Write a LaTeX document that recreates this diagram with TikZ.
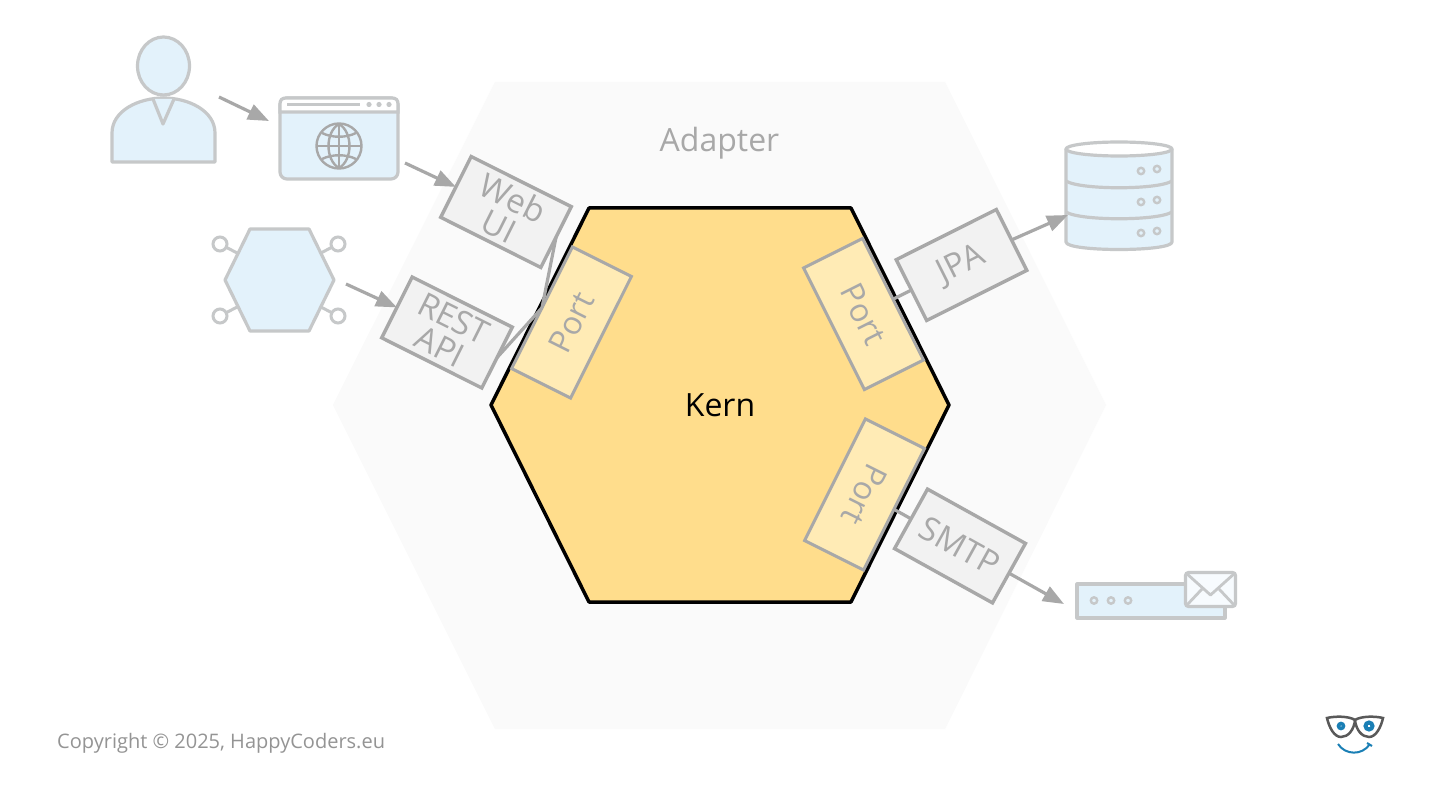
\documentclass[tikz,border=0pt]{standalone}
\usepackage{fontspec}
\setmainfont{Open Sans}
\usetikzlibrary{arrows.meta}
\definecolor{icon}{HTML}{C6C8C9}
\definecolor{iconfill}{HTML}{E3F2FB}
\definecolor{ink}{HTML}{A8A8A8}
\definecolor{adapterbg}{HTML}{FAFAFA}
\definecolor{corefill}{HTML}{FFDD8C}
\definecolor{portfill}{HTML}{FFEBB5}
\definecolor{logoblue}{HTML}{1A7FB5}
\begin{document}
\begin{tikzpicture}[
    x=1pt,y=-1pt,
    iconline/.style={draw=icon,line width=3.2pt,fill=iconfill,line join=round},
    adapterbox/.style={draw=ink,line width=3.4pt,fill=black!5,text=ink,minimum width=112pt,minimum height=68pt,
        inner sep=0pt,outer sep=0pt,align=center,font=\fontsize{33}{31}\selectfont},
    portbox/.style={draw=ink,line width=3pt,fill=portfill,text=ink,minimum width=136pt,minimum height=66pt,
        inner sep=0pt,outer sep=0pt,font=\fontsize{32}{32}\selectfont},
    link/.style={draw=ink,line width=3.2pt},
    flow/.style={link,-{Triangle[length=21pt,width=16pt]}}
    ]
	\useasboundingbox (0,0) rectangle (1440,810);
	\fill[white] (0,0) rectangle (1440,810);
	% hexagons
	\fill[adapterbg] (333,405) -- (495,82) -- (945,82) -- (1106,405) -- (945,729) -- (495,729) -- cycle;
	\draw[black,line width=3.5pt,fill=corefill,line join=round] (491,405) -- (589,208) -- (851,208) -- (949,405) -- (851,602) -- (589,602) -- cycle;
	\node (adapter) [text=ink,font=\fontsize{32}{32}\selectfont] at (719.5,143) {Adapter};
	\node (kern) [text=black,font=\fontsize{32}{32}\selectfont] at (720,405) {Kern};
	% ports
	\node (portleft) [portbox,rotate=63.4] at (571.5,322.5) {Port};
	\node (porttop) [portbox,rotate=-63.4] at (863.5,314) {Port};
	\node (portbottom) [portbox,rotate=-116.6] at (864.5,494.5) {Port};
	% adapters
	\node (webui) [adapterbox,rotate=-26.6] at (506,212) {Web\\UI};
	\node (restapi) [adapterbox,rotate=-26.6] at (447,332.5) {REST\\API};
	\node (jpa) [adapterbox,rotate=26.6] at (961.5,265) {JPA};
	\node (smtp) [adapterbox,rotate=-29] at (960,546) {SMTP};
	% user
	\draw[iconline] (112,162) -- (112,133) .. controls (112,111) and (138,98) .. (163.5,98)
		.. controls (189,98) and (215,111) .. (215,133) -- (215,162) -- cycle;
	\draw[iconline] (153,99) -- (163,124) -- (174,99);
	\draw[iconline] (163.5,66) ellipse [x radius=26,y radius=29];
	% browser
	\node (browser) [iconline,rounded corners=7pt,minimum width=118pt,minimum height=81pt,inner sep=0pt,outer sep=0pt] at (339,138.5) {};
	\draw[icon,line width=3.2pt,fill=white] (280,112) -- (280,104) .. controls (280,100) and (282,98) .. (286,98)
		-- (392,98) .. controls (396,98) and (398,100) .. (398,104) -- (398,112) -- cycle;
	\draw[icon,line width=2.5pt] (287,104.5) -- (360,104.5);
	\foreach \x in {369,379,389}
		\fill[icon] (\x,104.5) circle (2.6);
	\begin{scope}[ink,line width=2.4pt]
		\draw (339,146) circle (22.5);
		\draw (339,124) .. controls (325,132) and (325,160) .. (339,168);
		\draw (339,124) .. controls (353,132) and (353,160) .. (339,168);
		\draw (339,124) -- (339,168) (317,146) -- (361,146);
		\draw (322,133) .. controls (332,138) and (346,138) .. (356,133);
		\draw (322,159) .. controls (332,154) and (346,154) .. (356,159);
	\end{scope}
	% service
	\foreach \x/\y/\u/\v in {220/244/239/254,338/244/319/254,220/316/239/306,338/316/319/306}{
		\draw[icon,line width=3pt] (\u,\v) -- (\x,\y);
		\draw[icon,line width=3pt,fill=white] (\x,\y) circle (7);
	}
	\draw[iconline] (225,280) -- (250,229) -- (309,229) -- (334,280) -- (309,331) -- (250,331) -- cycle;
	% database
	\draw[iconline] (1066,149) -- (1066,242) .. controls (1066,252) and (1172,252) .. (1172,242) -- (1172,149) -- cycle;
	\draw[iconline,fill=white] (1119,149) ellipse [x radius=53,y radius=7];
	\draw[icon,line width=3.2pt] (1066,181) .. controls (1080,190) and (1158,190) .. (1172,181);
	\draw[icon,line width=3.2pt] (1066,212) .. controls (1080,221) and (1158,221) .. (1172,212);
	\foreach \y in {171,202,233}{
		\draw[icon,line width=2.4pt] (1141,\y) circle (3.2);
		\draw[icon,line width=2.4pt] (1157,\y-2) circle (3.2);
	}
	% mail
	\draw[iconline] (1077,584) rectangle (1225,618);
	\foreach \x in {1094,1111,1128}
		\draw[icon,line width=2.4pt] (\x,600.5) circle (3.2);
	\node (envelope) [draw=icon,line width=3.2pt,fill=white!70!iconfill,rounded corners=3pt,minimum width=50pt,minimum height=34pt,inner sep=0pt,outer sep=0pt] at (1210.5,589.5) {};
	\draw[icon,line width=2.8pt,line join=round] (1186,573) -- (1210.5,595) -- (1235,573);
	\draw[icon,line width=2.8pt] (1186,606) -- (1202,589) (1235,606) -- (1219,589);
	% connectors
	\coordinate (userout) at (219,97);
	\coordinate (browserin) at (269,121);
	\coordinate (browserout) at (405,163);
	\coordinate (serviceout) at (346,284);
	\coordinate (dbin) at (1068,215);
	\coordinate (mailin) at (1064,604);
	\draw[flow] (userout) -- (browserin);
	\draw[flow] (browserout) -- (webui.west);
	\draw[flow] (serviceout) -- (restapi.west);
	\draw[flow] (jpa.east) -- (dbin);
	\draw[flow] (smtp.east) -- (mailin);
	\draw[link] (webui.east) -- (portleft.north);
	\draw[link] (restapi.east) -- (portleft.north);
	\draw[link] (porttop.north) -- (jpa.west);
	\draw[link] (portbottom.north) -- (smtp.west);
	% footer
	\node (copyright) [anchor=west,inner sep=0pt,text=black!42,font=\fontsize{20}{20}\selectfont] at (57,743) {Copyright © 2025, HappyCoders.eu};
	% logo
	\draw[black!65,line width=2.5pt,fill=white] (1327,718) .. controls (1335,716) and (1349,716) .. (1355,720)
		.. controls (1354,730) and (1348,737) .. (1341,737) .. controls (1334,737) and (1329,727) .. (1327,718) -- cycle;
	\draw[black!65,line width=2.5pt,fill=white] (1383,718) .. controls (1375,716) and (1361,716) .. (1355,720)
		.. controls (1356,730) and (1362,737) .. (1369,737) .. controls (1376,737) and (1381,727) .. (1383,718) -- cycle;
	\draw[logoblue,line width=3.5pt] (1341,726) circle (2.5);
	\draw[logoblue,line width=4pt] (1369,726) circle (3.5);
	\draw[logoblue,line width=2pt] (1338,744) .. controls (1345,755) and (1362,756) .. (1370,744) (1367,743) -- (1372,746);
\end{tikzpicture}
\end{document}
